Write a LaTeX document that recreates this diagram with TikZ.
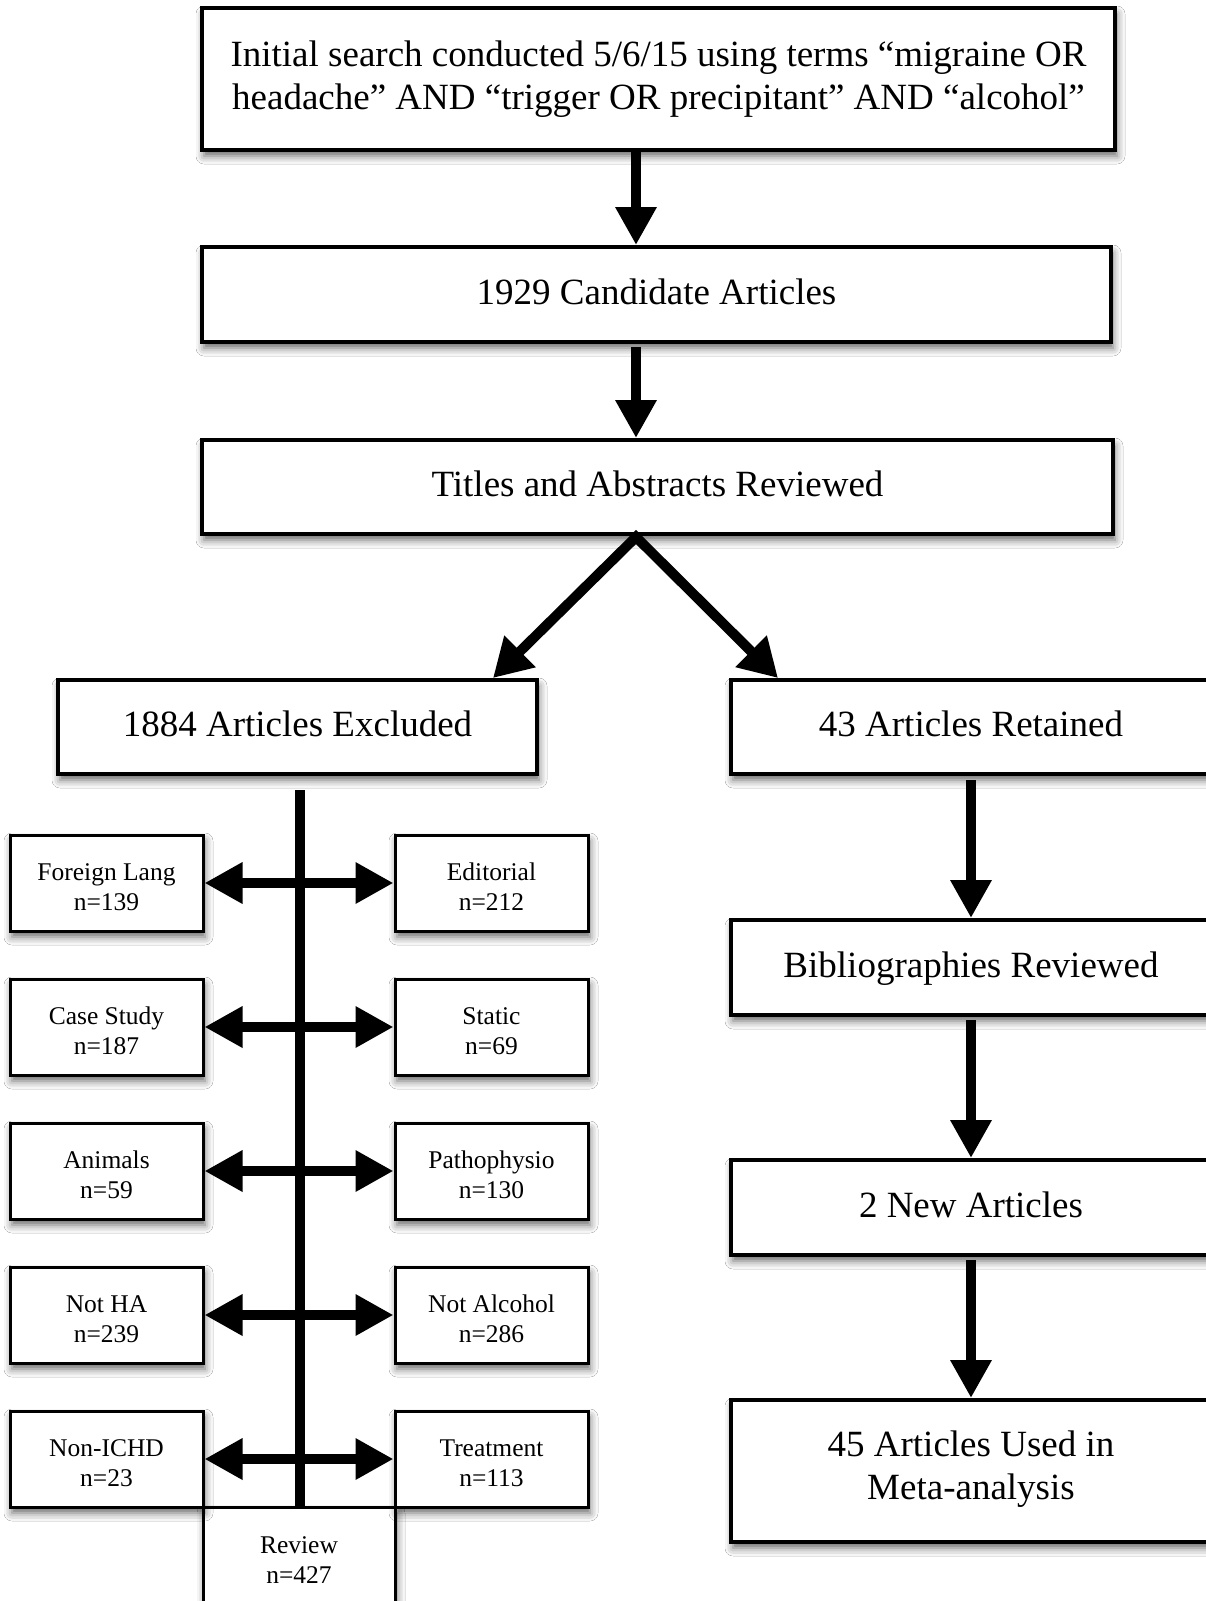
\documentclass[tikz,border=0pt]{standalone}
\usepackage{fontspec}
\setmainfont{Liberation Serif}
\usetikzlibrary{arrows.meta,shadows.blur,calc}
\begin{document}
\begin{tikzpicture}[x=1pt,y=-1pt,
  shad/.style={blur shadow={shadow xshift=2pt, shadow yshift=-6pt, shadow blur radius=8pt, shadow opacity=60}},
  bigbox/.style={draw=black, line width=4pt, fill=white, inner sep=0pt, align=center,
    font=\fontsize{37}{43}\selectfont, shad},
  oneline/.style={text height=26pt, text depth=6.5pt},
  smallbox/.style={draw=black, line width=3pt, fill=white, inner sep=0pt, align=center,
    minimum width=193pt, minimum height=96pt, font=\fontsize{25.5}{30}\selectfont,
    text height=55pt, text depth=0pt, shad},
  arr/.style={line width=10pt, -{Triangle[length=38pt,width=39pt]}},
  darr/.style={line width=10pt, {Triangle[length=38pt,width=39pt]}-{Triangle[length=38pt,width=39pt]}},
  vline/.style={line width=10pt}
]
\useasboundingbox (0,0) rectangle (1206,1601);
\clip (0,0) rectangle (1206,1601);
\fill[white] (0,0) rectangle (1206,1601);

% main column
\node[bigbox, minimum width=913pt, minimum height=142pt] (top) at (658.5,79)
  {Initial search conducted 5/6/15 using terms “migraine OR\\headache” AND “trigger OR precipitant” AND “alcohol”};
\node[bigbox, oneline, minimum width=909pt, minimum height=95pt] (cand) at (656.5,294.5) {1929 Candidate Articles};
\node[bigbox, oneline, minimum width=911pt, minimum height=94pt] (titles) at (657.5,487) {Titles and Abstracts Reviewed};
\node[bigbox, oneline, minimum width=479pt, minimum height=94pt] (excl) at (297.5,727) {1884 Articles Excluded};
\node[bigbox, oneline, minimum width=480pt, minimum height=94pt] (ret) at (971,727) {43 Articles Retained};
\node[bigbox, oneline, minimum width=480pt, minimum height=95pt] (bib) at (971,967.5) {Bibliographies Reviewed};
\node[bigbox, oneline, minimum width=480pt, minimum height=95pt] (new) at (971,1207.5) {2 New Articles};
\node[bigbox, minimum width=480pt, minimum height=142pt, text height=69pt, text depth=12pt] (meta) at (971,1471) {45 Articles Used in\\Meta-analysis};

% left column boxes
\node[smallbox, minimum width=192pt, minimum height=106pt, text height=47pt] (rev) at (299,1560) {Review\\n=427};
\node[smallbox] (fl) at (106.5,883) {Foreign Lang\\n=139};
\node[smallbox] (cs) at (106.5,1027) {Case Study\\n=187};
\node[smallbox] (an) at (106.5,1171) {Animals\\n=59};
\node[smallbox] (nha) at (106.5,1315) {Not HA\\n=239};
\node[smallbox] (nic) at (106.5,1459) {Non-ICHD\\n=23};
\node[smallbox] (ed) at (491.5,883) {Editorial\\n=212};
\node[smallbox] (st) at (491.5,1027) {Static\\n=69};
\node[smallbox] (pa) at (491.5,1171) {Pathophysio\\n=130};
\node[smallbox] (nal) at (491.5,1315) {Not Alcohol\\n=286};
\node[smallbox] (tr) at (491.5,1459) {Treatment\\n=113};

% connectors
\coordinate (ax) at (636,0);
\coordinate (xl) at (493,0);
\coordinate (xr) at (778,0);
\coordinate (apex) at (636,537);
\coordinate (vt) at (300,790);

\draw[arr] (top.south -| ax) -- (cand.north -| ax);
\draw[arr] ($(cand.south -| ax)+(0,3)$) -- (titles.north -| ax);
\draw[line width=10pt, line join=miter, {Triangle[length=38pt,width=42pt]}-{Triangle[length=38pt,width=42pt]}]
  (excl.north -| xl) -- (apex) -- (ret.north -| xr);

\draw[arr] ($(ret.south)+(0,4)$) -- (bib.north);
\draw[arr] ($(bib.south)+(0,3)$) -- (new.north);
\draw[arr] ($(new.south)+(0,3)$) -- (meta.north);

\draw[darr] (fl.east) -- (ed.west);
\draw[darr] (cs.east) -- (st.west);
\draw[darr] (an.east) -- (pa.west);
\draw[darr] (nha.east) -- (nal.west);
\draw[darr] (nic.east) -- (tr.west);
\draw[vline] (vt) -- (vt |- rev.north);
\end{tikzpicture}
\end{document}
